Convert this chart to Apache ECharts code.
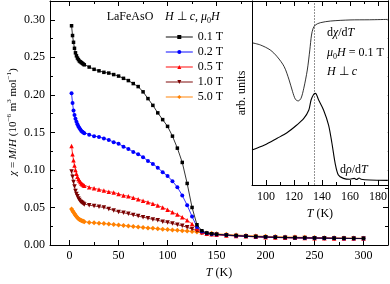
<!DOCTYPE html>
<html>
<head>
<meta charset="utf-8">
<script src="https://cdn.jsdelivr.net/npm/echarts@6/dist/echarts.min.js"></script>
<style>html,body{margin:0;padding:0;background:#fff}#c{width:390px;height:284px}</style>
</head>
<body>
<div id="c"></div>
<script>
// ---------- data ----------
const temps = [2,3,4,5,6,7,8,9,10,11,12,13,14,15,20,25,30,35,40,45,50,55,60,65,70,75,80,85,90,95,100,105,110,115,120,125,130,135,140,145,150,160,170,180,190,200,210,220,230,240,250,260,270,280,290,300];
const seriesNames = ['0.1 T','0.2 T','0.5 T','1.0 T','5.0 T'];
const chi01 = [0.292,0.279,0.270,0.262,0.256,0.252,0.249,0.247,0.245,0.244,0.243,0.242,0.241,0.240,0.237,0.234,0.232,0.230,0.229,0.227,0.225,0.222,0.219,0.215,0.211,0.204,0.195,0.186,0.176,0.167,0.158,0.145,0.129,0.110,0.082,0.050,0.027,0.019,0.016,0.015,0.0143,0.0133,0.0125,0.0118,0.0112,0.0107,0.0103,0.0100,0.0097,0.0095,0.0093,0.0092,0.0090,0.0089,0.0088,0.0087];
const chi02 = [0.202,0.189,0.179,0.173,0.168,0.164,0.161,0.158,0.156,0.154,0.152,0.151,0.150,0.149,0.147,0.145,0.144,0.142,0.140,0.137,0.135,0.131,0.128,0.124,0.121,0.117,0.112,0.108,0.103,0.097,0.092,0.085,0.077,0.066,0.053,0.038,0.024,0.018,0.0155,0.0147,0.0141,0.0132,0.0124,0.0117,0.0111,0.0106,0.0102,0.0099,0.0096,0.0094,0.0092,0.0091,0.0089,0.0088,0.0087,0.0086];
const chi05 = [0.132,0.121,0.113,0.106,0.100,0.095,0.091,0.088,0.086,0.084,0.082,0.081,0.080,0.079,0.077,0.0755,0.074,0.0725,0.071,0.070,0.068,0.066,0.065,0.063,0.061,0.059,0.057,0.055,0.0526,0.050,0.047,0.0436,0.0406,0.037,0.033,0.028,0.022,0.017,0.015,0.0142,0.0137,0.0128,0.0121,0.0115,0.0109,0.0104,0.0100,0.0097,0.0095,0.0093,0.0091,0.0090,0.0088,0.0087,0.0086,0.0085];
const chi10 = [0.098,0.091,0.084,0.078,0.072,0.068,0.065,0.062,0.060,0.058,0.057,0.056,0.055,0.054,0.053,0.052,0.051,0.050,0.048,0.046,0.044,0.043,0.0415,0.040,0.0385,0.037,0.0357,0.034,0.033,0.031,0.030,0.0286,0.027,0.0256,0.0235,0.0214,0.019,0.016,0.0148,0.0141,0.0136,0.0128,0.0121,0.0115,0.0109,0.0104,0.0100,0.0097,0.0095,0.0093,0.0091,0.0090,0.0088,0.0087,0.0086,0.0085];
const chi50 = [0.048,0.0455,0.0435,0.0415,0.0395,0.0378,0.0362,0.035,0.034,0.0332,0.0325,0.032,0.0315,0.031,0.030,0.0295,0.029,0.0285,0.028,0.0272,0.0265,0.026,0.0253,0.0245,0.024,0.0233,0.0227,0.0222,0.0216,0.021,0.0205,0.020,0.0195,0.019,0.0185,0.018,0.0172,0.0165,0.016,0.0155,0.015,0.0142,0.0134,0.0127,0.0121,0.0116,0.0112,0.0108,0.0105,0.0102,0.0100,0.0098,0.0096,0.0094,0.0092,0.0090];

const mainXTicks = [0,50,100,150,200,250,300];
const mainXMinor = [25,75,125,175,225,275];
const mainYTicks = [0,0.05,0.10,0.15,0.20,0.25,0.30];
const mainYMinor = [0.025,0.075,0.125,0.175,0.225,0.275];

// inset (arb. units)
const insetTchi = [90,96,103,108,113,116.5,119,121,123,125,127,129.5,131.3,132.5,133.7,135.3,138.8,146,160,174,187];
const dchi      = [77.3,76.1,73.4,69.7,64.3,57.1,50.7,46.6,45.7,47.1,52.6,62.5,73.4,81.5,85.2,87,88.2,89.1,89.7,89.8,90];
const insetTrho = [90,99,108,115,122,127,130.6,132.2,134.1,135.3,137.6,141.1,144.7,147.1,149.4,151.7,155.3,160,163,164.7,166.5,168,174,187];
const drho      = [19,21.7,25.4,28.4,32.6,36.2,40.8,46.2,49.3,49.8,46.2,40.8,32.6,22.7,11.8,5.4,3.6,3.1,3.6,3.0,3.8,3.1,2.7,2.5];
const insetXTicks = [100,120,140,160,180];
const insetXMinor = [110,130,150,170];
const transitionT = 134.5;

// ---------- chart ----------
const FF = '"Liberation Serif","Times New Roman",serif';
const K = '#000';
const rich = {
  i: {fontFamily: FF, fontSize: 12, fontStyle: 'italic', color: K, lineHeight: 16},
  n: {fontFamily: FF, fontSize: 12, color: K, lineHeight: 16},
  sup: {fontFamily: FF, fontSize: 8, color: K, verticalAlign: 'top', lineHeight: 9},
  sub: {fontFamily: FF, fontSize: 8, color: K, verticalAlign: 'bottom', lineHeight: 9}
};
const richY = {
  i: {fontFamily: FF, fontSize: 11, fontStyle: 'italic', color: K, lineHeight: 15},
  sup: {fontFamily: FF, fontSize: 7, color: K, verticalAlign: 'top', lineHeight: 8}
};
const chart = echarts.init(document.getElementById('c'), null, {renderer: 'canvas'});

function tickAxis(o) {
  return Object.assign({
    type: 'value', splitLine: {show: false},
    axisLine: {show: false, onZero: false, lineStyle: {color: K, width: 1}},
    axisLabel: {show: false}, axisTick: {show: false}
  }, o);
}

const xAxes = [
  tickAxis({gridIndex: 0, min: -20, max: 325, position: 'bottom',
    axisLine: {show: true, onZero: false, lineStyle: {color: K, width: 1}},
    axisTick: {show: true, inside: true, length: 5, customValues: mainXTicks, lineStyle: {color: K}},
    axisLabel: {show: true, customValues: mainXTicks, margin: 5, fontFamily: FF, fontSize: 12, color: K},
    name: '{i|T} (K)', nameLocation: 'middle', nameGap: 20,
    nameTextStyle: {fontFamily: FF, fontSize: 12, color: K, rich: rich}}),
  tickAxis({gridIndex: 0, min: -20, max: 325, position: 'bottom',
    axisTick: {show: true, inside: true, length: 3, customValues: mainXMinor, lineStyle: {color: K}}}),
  tickAxis({gridIndex: 0, min: -20, max: 325, position: 'top',
    axisLine: {show: true, onZero: false, lineStyle: {color: K, width: 1}},
    axisTick: {show: true, inside: true, length: 5, customValues: mainXTicks, lineStyle: {color: K}}}),
  tickAxis({gridIndex: 0, min: -20, max: 325, position: 'top',
    axisTick: {show: true, inside: true, length: 3, customValues: mainXMinor, lineStyle: {color: K}}}),
  // inset
  tickAxis({gridIndex: 1, min: 90, max: 187, position: 'bottom', z: 6,
    axisLine: {show: true, onZero: false, lineStyle: {color: K, width: 1}},
    axisTick: {show: true, inside: true, length: 5, customValues: insetXTicks, lineStyle: {color: K}},
    axisLabel: {show: true, customValues: insetXTicks, margin: 6, fontFamily: FF, fontSize: 12, color: K},
    name: '{i|T} (K)', nameLocation: 'middle', nameGap: 15,
    nameTextStyle: {fontFamily: FF, fontSize: 12, color: K, rich: rich}}),
  tickAxis({gridIndex: 1, min: 90, max: 187, position: 'bottom', z: 6,
    axisTick: {show: true, inside: true, length: 3, customValues: insetXMinor, lineStyle: {color: K}}}),
  tickAxis({gridIndex: 1, min: 90, max: 187, position: 'top', z: 6,
    axisLine: {show: true, onZero: false, lineStyle: {color: K, width: 1}},
    axisTick: {show: true, inside: true, length: 5, customValues: insetXTicks, lineStyle: {color: K}}}),
  tickAxis({gridIndex: 1, min: 90, max: 187, position: 'top', z: 6,
    axisTick: {show: true, inside: true, length: 3, customValues: insetXMinor, lineStyle: {color: K}}})
];
const yAxes = [
  tickAxis({gridIndex: 0, min: 0, max: 0.325, position: 'left',
    axisLine: {show: true, onZero: false, lineStyle: {color: K, width: 1}},
    axisTick: {show: true, inside: true, length: 5, customValues: mainYTicks, lineStyle: {color: K}},
    axisLabel: {show: true, customValues: mainYTicks, margin: 5, fontFamily: FF, fontSize: 12, color: K,
      formatter: v => Number(v).toFixed(2)}}),
  tickAxis({gridIndex: 0, min: 0, max: 0.325, position: 'left',
    axisTick: {show: true, inside: true, length: 3, customValues: mainYMinor, lineStyle: {color: K}}}),
  tickAxis({gridIndex: 0, min: 0, max: 0.325, position: 'right',
    axisLine: {show: true, onZero: false, lineStyle: {color: K, width: 1}},
    axisTick: {show: true, inside: true, length: 5, customValues: mainYTicks, lineStyle: {color: K}}}),
  tickAxis({gridIndex: 0, min: 0, max: 0.325, position: 'right',
    axisTick: {show: true, inside: true, length: 3, customValues: mainYMinor, lineStyle: {color: K}}}),
  // inset
  tickAxis({gridIndex: 1, min: 0, max: 100, position: 'left', z: 6,
    axisLine: {show: true, onZero: false, lineStyle: {color: K, width: 1}},
    name: 'arb. units', nameLocation: 'middle', nameGap: 4,
    nameTextStyle: {fontFamily: FF, fontSize: 12, color: K}}),
  tickAxis({gridIndex: 1, min: 0, max: 100, position: 'right', z: 6,
    axisLine: {show: true, onZero: false, lineStyle: {color: K, width: 1}}})
];

const styles = [
  {c: '#000000', s: 'rect', size: 3.5, r: 0},
  {c: '#0000ff', s: 'circle', size: 4, r: 0},
  {c: '#ff0000', s: 'triangle', size: 4.5, r: 0},
  {c: '#7a0000', s: 'triangle', size: 4.5, r: 180},
  {c: '#ff8000', s: 'diamond', size: 5, r: 0}
];
const allChi = [chi01, chi02, chi05, chi10, chi50];
const series = allChi.map((vals, k) => ({
  name: seriesNames[k], type: 'line', xAxisIndex: 0, yAxisIndex: 0,
  data: temps.map((t, i) => [t, vals[i]]),
  symbol: styles[k].s, symbolSize: styles[k].size, symbolRotate: styles[k].r,
  lineStyle: {color: styles[k].c, width: 0.8}, itemStyle: {color: styles[k].c},
  z: 2 + (4 - k) * 0.01, animation: false
}));
series.push({
  name: 'dchi', type: 'line', xAxisIndex: 4, yAxisIndex: 4, z: 7,
  data: insetTchi.map((t, i) => [t, dchi[i]]), symbol: 'none', smooth: 0.3,
  lineStyle: {color: K, width: 0.8}, animation: false,
  markLine: {silent: true, symbol: 'none', label: {show: false},
    lineStyle: {color: '#777', width: 0.8, type: [2, 1]},
    data: [{xAxis: transitionT}]}
});
series.push({
  name: 'drho', type: 'line', xAxisIndex: 4, yAxisIndex: 4, z: 7,
  data: insetTrho.map((t, i) => [t, drho[i]]), symbol: 'none', smooth: 0.3,
  lineStyle: {color: K, width: 1.1}, animation: false
});

function txt(text, x, y, align) {
  return {type: 'text', z: 20, x: x, y: y,
    style: {text: text, fill: K, font: '12px ' + FF, textAlign: align || 'left', textVerticalAlign: 'middle', rich: rich}};
}

chart.setOption({
  animation: false,
  backgroundColor: '#fff',
  grid: [
    {left: 50, top: 1, width: 338, height: 254, containLabel: false},
    {left: 252, top: 1, width: 136, height: 184, containLabel: false, show: true,
     backgroundColor: '#fff', borderWidth: 0, z: 5}
  ],
  xAxis: xAxes,
  yAxis: yAxes,
  legend: {
    data: seriesNames, orient: 'vertical', left: 165, top: 31, padding: 0,
    itemWidth: 27, itemHeight: 5, itemGap: 3, selectedMode: false,
    lineStyle: {width: 1.6, opacity: 0.6},
    textStyle: {fontFamily: FF, fontSize: 12, color: K}
  },
  graphic: [
    txt('LaFeAsO', 130, 17, 'center'),
    txt('{i|H} ⊥ {i|c}, {i|μ}{sub|0}{i|H}', 165, 17),
    txt('d{i|χ}/d{i|T}', 327, 33),
    txt('{i|μ}{sub|0}{i|H} = 0.1 T', 327, 53),
    txt('{i|H} ⊥ {i|c}', 327, 72),
    txt('d{i|ρ}/d{i|T}', 340, 170),
    {type: 'text', z: 20, x: 13, y: 122, rotation: Math.PI / 2,
     style: {text: '{i|χ} = {i|M}/{i|H} (10{sup|−6} m{sup|3} mol{sup|−1})', fill: K,
       font: '11px ' + FF, textAlign: 'center', textVerticalAlign: 'middle', rich: richY}}
  ],
  series: series
});
</script>
</body>
</html>
